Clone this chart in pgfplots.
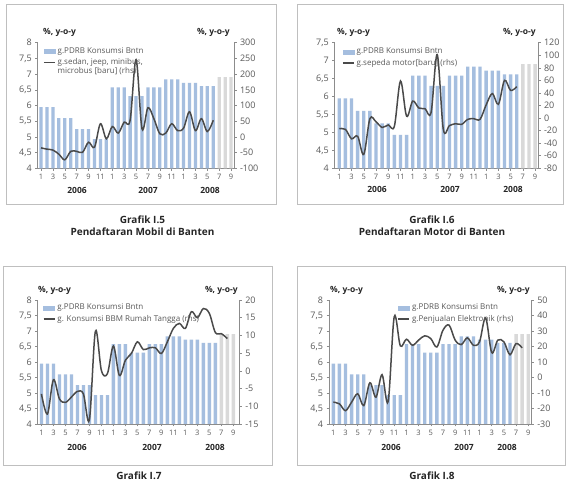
\documentclass[border=0pt]{standalone}
\usepackage{fontspec}
\setmainfont{Open Sans}
\usepackage{pgfplots}
\usepackage{pgfplotstable}
\pgfplotsset{compat=1.18}
\definecolor{barblue}{HTML}{A5BEDF}
\definecolor{bargrey}{HTML}{D9D9D9}
\definecolor{linegrey}{HTML}{4A4A4A}
\definecolor{axgrey}{HTML}{8C8C8C}
\definecolor{txtgrey}{HTML}{595959}
\definecolor{framegrey}{HTML}{BFBFBF}
\definecolor{ttl}{HTML}{262626}

\pgfplotstableread{
m v
1 5.95
2 5.95
3 5.95
4 5.60
5 5.60
6 5.60
7 5.25
8 5.25
9 5.25
10 4.93
11 4.93
12 4.93
13 6.58
14 6.58
15 6.58
16 6.30
17 6.30
18 6.30
19 6.58
20 6.58
21 6.58
22 6.83
23 6.83
24 6.83
25 6.72
26 6.72
27 6.72
28 6.62
29 6.62
30 6.62
}\barsblue
\pgfplotstableread{
m v
31 6.90
32 6.90
33 6.90
}\barsgrey

\pgfplotstableread{
m v
1 -35
2 -39
3 -42
4 -55
5 -73
6 -46
7 -46
8 -49
9 -17
10 -33
11 42
12 -6
13 33
14 12
15 47
16 53
17 246
18 26
19 93
20 58
21 10
22 12
23 42
24 20
25 28
26 80
27 20
28 58
29 17
30 53
}\lineA

\pgfplotstableread{
m v
1 -17
2 -18
3 -33
4 -29
5 -58
6 -1
7 -6
8 -15
9 -11
10 -13
11 59
12 3
13 27
14 16
15 15
16 9
17 101
18 -18
19 -12
20 -9
21 -10
22 -2
23 -1
24 -2
25 21
26 39
27 22
28 60
29 44
30 50
}\lineB

\pgfplotstableread{
m v
1 -6.5
2 -12.2
3 -2.5
4 -7.9
5 -8.9
6 -7.4
7 -5.8
8 -6.5
9 -13.8
10 11.2
11 0.1
12 -0.8
13 7.0
14 -1.3
15 3.0
16 4.9
17 8.2
18 6.0
19 6.5
20 6.5
21 4.9
22 8.2
23 12.0
24 13.4
25 12.0
26 16.7
27 15.0
28 17.6
29 16.2
30 10.8
31 10.5
32 9.1
}\lineC

\pgfplotstableread{
m v
1 -15.9
2 -17
3 -21.4
4 -15.9
5 -10.5
6 -18.1
7 -3.4
8 -12.7
9 1.8
10 -15.5
11 39.2
12 20.4
13 24.7
14 20.8
15 24.1
16 26.9
17 25.1
18 19.7
19 30.5
20 33.8
21 24.1
22 21.2
23 25.6
24 20.8
25 23
26 38.5
27 16.1
28 24.1
29 23
30 14.7
31 21.9
32 19.1
}\lineD

\pgfplotsset{
  common/.style={scale only axis, clip=false,
    axis line style={axgrey, line width=0.6pt},
    tick style={axgrey, line width=0.5pt},
    major tick length=2.5pt, tick align=outside,
    /pgf/number format/assume math mode=true,
    /pgf/number format/use comma,
    /pgf/number format/1000 sep={},
    yticklabel style={font=\fontsize{9}{9}\selectfont, text=txtgrey},
  },
  barax/.style={common, axis x line*=bottom, axis y line*=left,
    xtick={1,3,...,33},
    xticklabels={1,3,5,7,9,11,1,3,5,7,9,11,1,3,5,7,9},
    xticklabel style={font=\fontsize{7.5}{8}\selectfont, text=txtgrey},
    ymin=4, ytick distance=0.5},
  lineax/.style={common, axis x line=none, axis y line*=right,
    legend style={draw=none, fill=none, font=\fontsize{8}{9}\selectfont, text=txtgrey,
      anchor=north west, cells={align=left, inner sep=1pt}, inner sep=0pt, row sep=0pt},
    legend cell align=left},
  bars/.style={ybar, bar width=0.55, bar shift=0pt, draw=none, fill=barblue},
  gbars/.style={ybar, bar width=0.55, bar shift=0pt, draw=none, fill=bargrey},
  ln/.style={linegrey, line width=1.5pt, smooth, tension=0.55, no markers},
  legbar/.style={legend image code/.code={\fill[barblue] (0pt,-2pt) rectangle (11pt,2pt);}},
  legline/.style={legend image code/.code={\draw[linegrey, line width=1.5pt] (0pt,0pt) -- (11pt,0pt);}},
  leglinehi/.style={legend image code/.code={\draw[linegrey, line width=1.5pt] (0pt,4.5pt) -- (11pt,4.5pt);}},
}

\begin{document}
\begin{tikzpicture}
\path[use as bounding box, fill=white] (0,0) rectangle (568pt,482pt);
\clip (0,0) rectangle (568pt,482pt);
\tikzset{hd/.style={font=\bfseries\fontsize{8.5}{9}\selectfont, text=ttl, inner sep=0pt},
         yr/.style={font=\bfseries\fontsize{8.5}{9}\selectfont, text=ttl, inner sep=0pt, anchor=base},
         captxt/.style={font=\bfseries\fontsize{10}{11}\selectfont, text=ttl, inner sep=0pt, anchor=base}}
% frames
\draw[framegrey, line width=0.8pt] (6pt,278pt) rectangle (276pt,478pt);
\draw[framegrey, line width=0.8pt] (297.3pt,278pt) rectangle (563pt,478pt);
\draw[framegrey, line width=0.8pt] (3.3pt,17pt) rectangle (272.7pt,216pt);
\draw[framegrey, line width=0.8pt] (297.3pt,17pt) rectangle (565.7pt,216pt);

% ===== Panel 1 =====
\begin{axis}[barax, at={(37.7pt,313.7pt)}, width=196.3pt, height=125.6pt, xmin=0.44, xmax=33.49, ymax=8]
\addplot[bars] table {\barsblue};
\addplot[gbars] table {\barsgrey};
\end{axis}
\begin{axis}[lineax, at={(37.7pt,313.7pt)}, width=196.3pt, height=125.6pt, xmin=0.44, xmax=33.49,
  ymin=-100, ymax=300, ytick distance=50, legend style={at={(0.027,0.98)}}]
\addlegendimage{legbar}
\addlegendentry{g.PDRB Konsumsi Bntn}
\addplot[ln, leglinehi] table {\lineA};
\addlegendentry{g.sedan, jeep, minibus,\\microbus [baru] (rhs)}
\end{axis}
\node[hd, anchor=base west] at (43pt,447.7pt) {\%, y-o-y};
\node[hd, anchor=base east] at (230pt,447.7pt) {\%, y-o-y};
\node[yr] at (77pt,288pt) {2006};
\node[yr] at (148pt,288pt) {2007};
\node[yr] at (210pt,288pt) {2008};
\node[captxt] at (142.5pt,258pt) {Grafik I.5};
\node[captxt] at (142.5pt,246.3pt) {Pendaftaran Mobil di Banten};

% ===== Panel 2 =====
\begin{axis}[barax, at={(334.7pt,313.7pt)}, width=203.3pt, height=125.6pt, xmin=0.25, xmax=33.47, ymax=7.5]
\addplot[bars] table {\barsblue};
\addplot[gbars] table {\barsgrey};
\end{axis}
\begin{axis}[lineax, at={(334.7pt,313.7pt)}, width=203.3pt, height=125.6pt, xmin=0.25, xmax=33.47,
  ymin=-80, ymax=120, ytick distance=20, legend style={at={(0.036,0.975)}}]
\addlegendimage{legbar}
\addlegendentry{g.PDRB Konsumsi Bntn}
\addplot[ln, legline] table {\lineB};
\addlegendentry{g.sepeda motor[baru] (rhs)}
\end{axis}
\node[hd, anchor=base west] at (337pt,447.7pt) {\%, y-o-y};
\node[hd, anchor=base east] at (536pt,447.7pt) {\%, y-o-y};
\node[yr] at (377pt,289.3pt) {2006};
\node[yr] at (450pt,289.3pt) {2007};
\node[yr] at (513pt,289.3pt) {2008};
\node[captxt] at (432pt,258pt) {Grafik I.6};
\node[captxt] at (432pt,246.3pt) {Pendaftaran Motor di Banten};

% ===== Panel 3 =====
\begin{axis}[barax, at={(37.7pt,58pt)}, width=201.6pt, height=124pt, xmin=0.38, xmax=33.99, ymax=8]
\addplot[bars] table {\barsblue};
\addplot[gbars] table {\barsgrey};
\end{axis}
\begin{axis}[lineax, at={(37.7pt,58pt)}, width=201.6pt, height=124pt, xmin=0.38, xmax=33.99,
  ymin=-15, ymax=20, ytick distance=5, legend style={at={(0.025,0.985)}}]
\addlegendimage{legbar}
\addlegendentry{g.PDRB Konsumsi Bntn}
\addplot[ln, legline] table {\lineC};
\addlegendentry{g. Konsumsi BBM Rumah Tangga (rhs)}
\end{axis}
\node[hd, anchor=base west] at (38pt,189.7pt) {\%, y-o-y};
\node[hd, anchor=base east] at (238pt,189.7pt) {\%, y-o-y};
\node[yr] at (77pt,31.3pt) {2006};
\node[yr] at (152pt,31.3pt) {2007};
\node[yr] at (215pt,31.3pt) {2008};
\node[captxt] at (139pt,2.5pt) {Grafik I.7};

% ===== Panel 4 =====
\begin{axis}[barax, at={(329pt,58pt)}, width=202.3pt, height=124pt, xmin=0.29, xmax=33.5, ymax=8]
\addplot[bars] table {\barsblue};
\addplot[gbars] table {\barsgrey};
\end{axis}
\begin{axis}[lineax, at={(329pt,58pt)}, width=202.3pt, height=124pt, xmin=0.29, xmax=33.5,
  ymin=-30, ymax=50, ytick distance=10, legend style={at={(0.338,0.985)}}]
\addlegendimage{legbar}
\addlegendentry{g.PDRB Konsumsi Bntn}
\addplot[ln, legline] table {\lineD};
\addlegendentry{g.Penjualan Elektronik (rhs)}
\end{axis}
\node[hd, anchor=base west] at (330pt,189.7pt) {\%, y-o-y};
\node[hd, anchor=base east] at (530pt,189.7pt) {\%, y-o-y};
\node[yr] at (391pt,31.3pt) {2006};
\node[yr] at (464pt,31.3pt) {2007};
\node[yr] at (507pt,31.3pt) {2008};
\node[captxt] at (432pt,2.5pt) {Grafik I.8};
\end{tikzpicture}
\end{document}
